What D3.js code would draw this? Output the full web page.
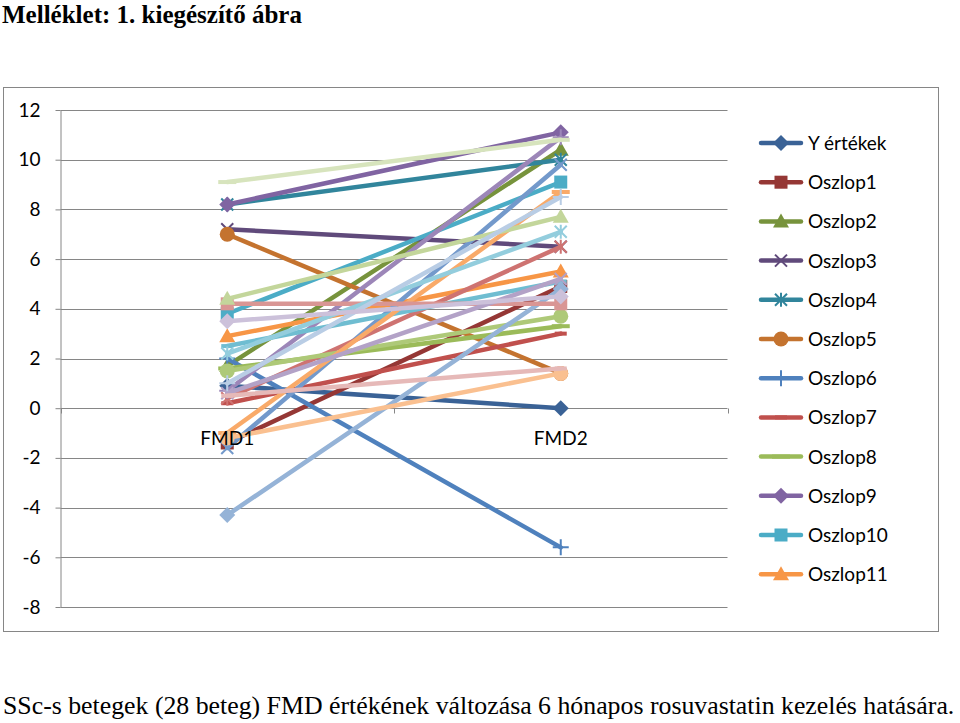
<!DOCTYPE html>
<html>
<head>
<meta charset="utf-8">
<script src="https://cdn.jsdelivr.net/npm/d3@7"></script>
<style>
  body { margin: 0; background: #fff; }
  svg { display: block; }
</style>
</head>
<body>
<svg id="chart" width="960" height="723"></svg>
<script>
// categories and values
const categories = ['FMD1', 'FMD2'];
const seriesNames = ['Y értékek'].concat(d3.range(1, 28).map((i) => `Oszlop${i}`));
const fmd1 = [0.9, -1.4, 1.7, 7.2, 8.2, 7.0, 2.0, 0.2, 1.6, 8.2, 3.8, 2.9, -1.6, 0.4,
  1.5, 0.7, 2.5, -1.0, -4.3, 4.2, 4.4, 0.6, 2.2, -1.2, 1.0, 0.5, 9.1, 3.5];
const fmd2 = [0.0, 4.9, 10.4, 6.5, 10.0, 1.4, -5.6, 3.0, 3.3, 11.1, 9.1, 5.5, 9.8, 6.5,
  3.7, 10.9, 5.1, 8.7, 4.8, 4.2, 7.7, 5.2, 7.1, 1.4, 8.5, 1.6, 10.8, 4.5];
const yTicks = [12, 10, 8, 6, 4, 2, 0, -2, -4, -6, -8];
const legendCount = 12;

// Excel-like palette: darker, base, lighter, lightest ...
const palette = [
  ['#3A6296', '#953735', '#77933C', '#604A7B', '#31859C', '#C4732F'],
  ['#4F81BD', '#C0504D', '#9BBB59', '#8064A2', '#4BACC6', '#F79646'],
  ['#7399CB', '#CE7371', '#AEC978', '#9C86B8', '#6FBDD1', '#F9AA69'],
  ['#95B3D7', '#D99694', '#C3D69B', '#B3A2C7', '#93CDDD', '#FAC090'],
  ['#B9CDE5', '#E6B9B8', '#D7E4BD', '#CCC1DA', '#B7DEE8', '#FCD5B5']
];
const markerCycle = ['diamond', 'square', 'triangle', 'x', 'star', 'circle', 'plus', 'dash', 'longdash'];

const plotLeft = 60.5, plotRight = 727.5, plotTop = 110, plotBottom = 607;

const svg = d3.select('#chart');
const axisColor = '#868686';
const labelFont = 'Lato, "Open Sans", sans-serif';

// title and caption
svg.append('text')
  .attr('x', 2).attr('y', 23)
  .style('font-family', '"Liberation Serif", "Times New Roman", serif')
  .style('font-weight', 'bold')
  .style('font-size', '25px')
  .text('Melléklet: 1. kiegészítő ábra');

svg.append('text')
  .attr('x', 3).attr('y', 714)
  .style('font-family', '"Liberation Serif", "Times New Roman", serif')
  .style('font-size', '25.8px')
  .text('SSc-s betegek (28 beteg) FMD értékének változása 6 hónapos rosuvastatin kezelés hatására.');

// chart border
svg.append('rect')
  .attr('x', 3.5).attr('y', 87.5)
  .attr('width', 935).attr('height', 544)
  .attr('fill', 'none')
  .attr('stroke', axisColor)
  .attr('stroke-width', 1);

const x = d3.scaleBand().domain(categories).range([plotLeft, plotRight]);
const xc = (c) => x(c) + x.bandwidth() / 2;
const y = d3.scaleLinear().domain([-8, 12]).range([plotBottom, plotTop]);

// gridlines
svg.append('g')
  .selectAll('line')
  .data(yTicks)
  .join('line')
  .attr('x1', plotLeft)
  .attr('x2', plotRight)
  .attr('y1', (d) => Math.round(y(d)) + 0.5)
  .attr('y2', (d) => Math.round(y(d)) + 0.5)
  .attr('stroke', axisColor)
  .attr('stroke-width', 1);

// y axis
svg.append('g')
  .attr('transform', `translate(${plotLeft},0)`)
  .call(d3.axisLeft(y).tickValues(yTicks).tickFormat((d) => String(d))
    .tickSize(5).tickPadding(15).tickSizeOuter(0))
  .call((g) => g.select('.domain').attr('stroke', axisColor))
  .call((g) => g.selectAll('.tick line').attr('stroke', axisColor))
  .call((g) => g.selectAll('.tick text')
    .style('font-family', labelFont)
    .style('font-size', '19px')
    .attr('fill', '#000'));

// category axis at zero, ticks between categories
svg.append('g')
  .attr('transform', `translate(0,${Math.round(y(0)) + 0.5})`)
  .selectAll('line')
  .data([plotLeft, x('FMD2'), plotRight])
  .join('line')
  .attr('x1', (d) => Math.round(d) + 0.5)
  .attr('x2', (d) => Math.round(d) + 0.5)
  .attr('y1', 0).attr('y2', 5)
  .attr('stroke', axisColor);

function drawMarker(g, type, color, px, py) {
  const s = 7;
  if (type === 'diamond') {
    g.append('path').attr('d', `M${px},${py - s - 1}L${px + s + 1},${py}L${px},${py + s + 1}L${px - s - 1},${py}Z`)
      .attr('fill', color);
  } else if (type === 'square') {
    g.append('rect').attr('x', px - s + 0.5).attr('y', py - s + 0.5)
      .attr('width', 2 * s - 1).attr('height', 2 * s - 1).attr('fill', color);
  } else if (type === 'triangle') {
    g.append('path').attr('d', `M${px},${py - s - 1}L${px + s + 1},${py + s - 1}L${px - s - 1},${py + s - 1}Z`)
      .attr('fill', color);
  } else if (type === 'x' || type === 'star') {
    let d = `M${px - 6},${py - 6}L${px + 6},${py + 6}M${px + 6},${py - 6}L${px - 6},${py + 6}`;
    if (type === 'star') d += `M${px},${py - 7}L${px},${py + 7}`;
    g.append('path').attr('d', d).attr('stroke', color).attr('stroke-width', 2).attr('fill', 'none');
  } else if (type === 'circle') {
    g.append('circle').attr('cx', px).attr('cy', py).attr('r', 7.5).attr('fill', color);
  } else if (type === 'plus') {
    g.append('path').attr('d', `M${px - 8},${py}L${px + 8},${py}M${px},${py - 8}L${px},${py + 8}`)
      .attr('stroke', color).attr('stroke-width', 2).attr('fill', 'none');
  } else if (type === 'dash') {
    g.append('rect').attr('x', px - 6).attr('y', py - 2).attr('width', 12).attr('height', 4).attr('fill', color);
  } else if (type === 'longdash') {
    g.append('rect').attr('x', px - 9).attr('y', py - 2).attr('width', 18).attr('height', 4).attr('fill', color);
  }
}

const seriesColor = (i) => palette[Math.floor(i / 6)][i % 6];
const seriesMarker = (i) => markerCycle[i % markerCycle.length];

// series
const series = seriesNames.map((name, i) => ({ name, values: [fmd1[i], fmd2[i]], i }));
const line = d3.line().x((d, j) => xc(categories[j])).y((d) => y(d));
const seriesG = svg.append('g');
series.forEach((s) => {
  const g = seriesG.append('g');
  const color = seriesColor(s.i);
  g.append('path')
    .attr('d', line(s.values))
    .attr('fill', 'none')
    .attr('stroke', color)
    .attr('stroke-width', 4.5)
    .attr('stroke-linecap', 'round');
  s.values.forEach((v, j) => drawMarker(g, seriesMarker(s.i), color, xc(categories[j]), y(v)));
});

// category labels
svg.append('g')
  .selectAll('text')
  .data(categories)
  .join('text')
  .attr('x', (d) => xc(d))
  .attr('y', y(0) + 37)
  .attr('text-anchor', 'middle')
  .style('font-family', labelFont)
  .style('font-size', '19px')
  .text((d) => d);

// legend (only the first entries fit)
const legend = svg.append('g');
series.slice(0, legendCount).forEach((s, k) => {
  const ly = 143 + k * 39.2;
  const color = seriesColor(s.i);
  legend.append('line')
    .attr('x1', 761).attr('x2', 801)
    .attr('y1', ly).attr('y2', ly)
    .attr('stroke', color)
    .attr('stroke-width', 4.5)
    .attr('stroke-linecap', 'round');
  drawMarker(legend, seriesMarker(s.i), color, 781, ly);
  legend.append('text')
    .attr('x', 808).attr('y', ly + 7)
    .style('font-family', labelFont)
    .style('font-size', '19px')
    .text(s.name);
});
</script>
</body>
</html>
